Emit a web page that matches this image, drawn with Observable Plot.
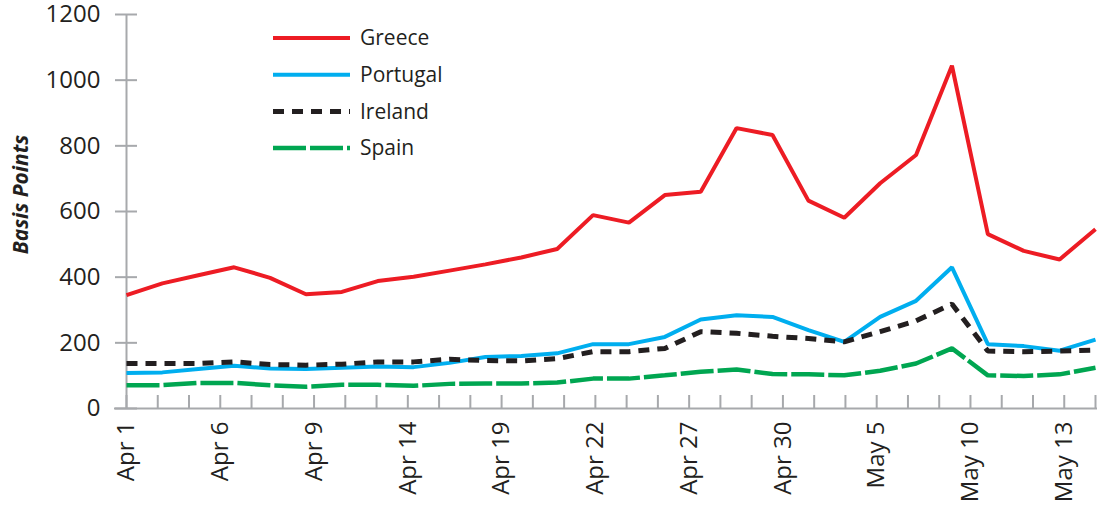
<!DOCTYPE html>
<html>
<head>
<meta charset="utf-8">
<script src="https://cdn.jsdelivr.net/npm/d3@7"></script>
<script src="https://cdn.jsdelivr.net/npm/@observablehq/plot@0.6"></script>
<style>
html, body { margin: 0; padding: 0; background: #fff; }
#chart { position: relative; width: 1097px; height: 508px; font-family: "Open Sans", sans-serif; }
#legend { position: absolute; left: 0; top: 0; pointer-events: none; }
</style>
</head>
<body>
<div id="chart"></div>
<script>
// ---- data ----
const dayCount = 32;             // trading days on the axis (one small tick each)
const tickLabels = ["Apr 1", "Apr 6", "Apr 9", "Apr 14", "Apr 19", "Apr 22", "Apr 27", "Apr 30", "May 5", "May 10", "May 13"];
const labelEvery = 3;
const yTicks = [0, 200, 400, 600, 800, 1000, 1200];

const seriesNames = ["Greece", "Portugal", "Ireland", "Spain"];
const greece   = [345, 381, 406, 430, 398, 348, 355, 388, 401, 420, 439, 460, 486, 589, 566, 650, 660, 854, 833, 633, 581, 686, 772, 1044, 531, 480, 454, 546];
const portugal = [108, 110, 120, 130, 122, 120, 124, 128, 126, 139, 157, 160, 168, 196, 196, 218, 271, 284, 279, 239, 203, 279, 328, 430, 196, 190, 176, 210];
const ireland  = [137, 137, 137, 142, 134, 132, 135, 142, 142, 150, 146, 145, 152, 173, 173, 183, 234, 229, 220, 213, 203, 234, 267, 318, 175, 173, 175, 178];
const spain    = [71, 71, 78, 78, 71, 66, 72, 72, 69, 75, 76, 76, 79, 91, 91, 101, 112, 119, 105, 104, 101, 115, 137, 183, 101, 99, 104, 124];

// ---- styles ----
const styles = {
  Greece:   {stroke: "#ed1c24", strokeWidth: 4,   dash: null},
  Portugal: {stroke: "#00aeef", strokeWidth: 4,   dash: null},
  Ireland:  {stroke: "#231f20", strokeWidth: 5,   dash: "11,8"},
  Spain:    {stroke: "#00a651", strokeWidth: 4.5, dash: "33,4"}
};
const gray = "#a7a9ac";
const textColor = "#231f20";

const valuesByName = {Greece: greece, Portugal: portugal, Ireland: ireland, Spain: spain};
const tickIdx = tickLabels.map((_, i) => i * labelEvery);

function seriesRows(name) {
  const vals = valuesByName[name];
  return vals.map((v, i) => ({name, x: i * (dayCount - 1) / (vals.length - 1), y: v}));
}

const drawOrder = ["Spain", "Portugal", "Ireland", "Greece"];
const lineMarks = drawOrder.map(name => Plot.line(seriesRows(name), {
  x: "x", y: "y",
  stroke: styles[name].stroke,
  strokeWidth: styles[name].strokeWidth,
  strokeDasharray: styles[name].dash,
  strokeLinejoin: "miter",
  strokeLinecap: "butt"
}));

const chart = Plot.plot({
  width: 1097,
  height: 508,
  marginLeft: 126,
  marginRight: 2,
  marginTop: 14,
  marginBottom: 100,
  style: {fontFamily: "'Open Sans', sans-serif", fontSize: "24px", color: textColor, background: "white", overflow: "visible"},
  x: {type: "linear", domain: [0, dayCount - 1]},
  y: {domain: [0, 1200]},
  marks: [
    Plot.ruleX([0], {stroke: gray, strokeWidth: 2}),
    Plot.ruleY([0], {stroke: gray, strokeWidth: 2, insetLeft: -12, insetRight: -2}),
    Plot.axisY({ticks: yTicks, tickSize: 22, dx: 11, tickFormat: () => "", stroke: gray, strokeWidth: 2, label: null}),
    Plot.axisY({ticks: yTicks, tickSize: 0, tickPadding: 26, tickFormat: d => String(d), label: null, fill: textColor}),
    Plot.axisX({ticks: d3.range(dayCount), tickSize: 13, dy: -13, tickFormat: () => "", stroke: gray, strokeWidth: 2, label: null}),
    Plot.axisX({ticks: tickIdx, tickSize: 0, tickPadding: 13, tickRotate: -90, tickFormat: i => tickLabels[tickIdx.indexOf(i)], label: null, fill: textColor}),
    Plot.text(["Basis Points"], {frameAnchor: "left", rotate: -90, dx: -105, dy: -17, textAnchor: "middle", fontWeight: "bold", fontStyle: "italic", fontSize: 21, fill: textColor}),
    ...lineMarks
  ]
});

const container = document.getElementById("chart");
container.appendChild(chart);

// ---- legend (overlay) ----
const legend = d3.select(container).append("svg")
  .attr("id", "legend").attr("width", 1097).attr("height", 508);
const legX1 = 273, legX2 = 350, legTextX = 360, legY0 = 38, legStep = 36.7;
seriesNames.forEach((name, i) => {
  const y = legY0 + i * legStep;
  const s = styles[name];
  legend.append("line")
    .attr("x1", legX1).attr("x2", legX2).attr("y1", y).attr("y2", y)
    .attr("stroke", s.stroke).attr("stroke-width", s.strokeWidth)
    .attr("stroke-dasharray", s.dash);
  legend.append("text")
    .attr("x", legTextX).attr("y", y).attr("dy", "0.35em")
    .attr("font-family", "'Open Sans', sans-serif").attr("font-size", 21)
    .attr("fill", textColor).text(name);
});
</script>
</body>
</html>
